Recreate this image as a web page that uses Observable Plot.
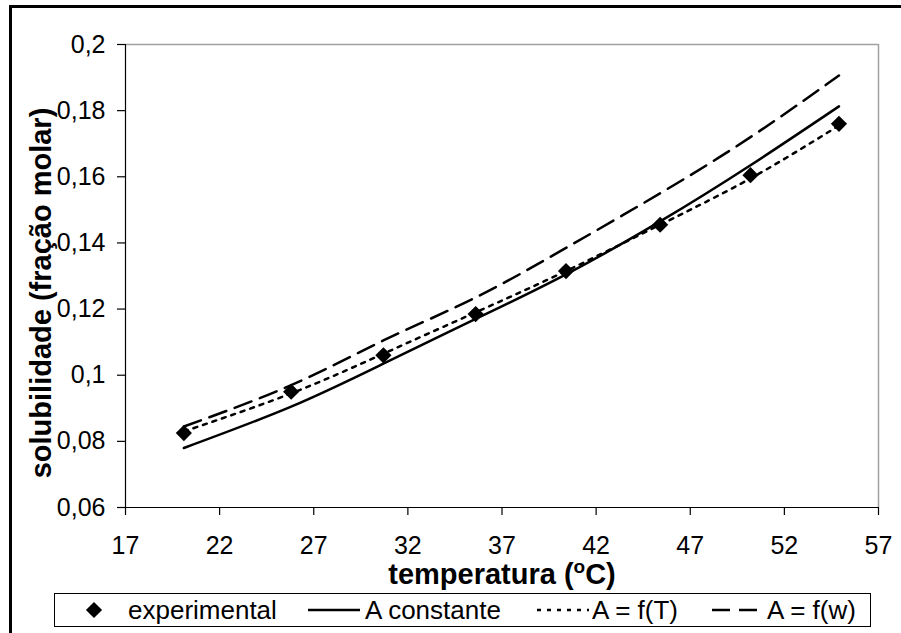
<!DOCTYPE html>
<html><head><meta charset="utf-8">
<script src="https://cdn.jsdelivr.net/npm/d3@7"></script>
<script src="https://cdn.jsdelivr.net/npm/@observablehq/plot@0.6"></script>
<style>
body{margin:0;background:#fff;font-family:"Liberation Sans",Arial,sans-serif;}
#wrap{position:relative;width:901px;height:633px;overflow:hidden;background:#fff;}
#frame{position:absolute;left:9px;top:5px;width:1000px;height:1000px;border:3px solid #000;box-sizing:border-box;pointer-events:none}
#chart{position:absolute;left:0;top:0}
#legend{position:absolute;left:54px;top:593px;width:817px;height:34px;border:1px solid #000;box-sizing:border-box;font-size:26px;color:#000;}
#legend .sw{position:absolute;top:0;}
#legend .lab{position:absolute;top:0;height:32px;line-height:32px;white-space:nowrap;}
</style></head><body>
<div id="wrap"><div id="chart"></div><div id="legend"></div><div id="frame"></div></div>
<script>
// ---- data ----
const temperatura  = [20.1, 25.8, 30.7, 35.6, 40.4, 45.4, 50.2, 54.9];
const experimental = [0.0825, 0.095, 0.106, 0.1185, 0.1315, 0.1455, 0.1605, 0.176];
const aConstante   = [0.078, 0.0905, 0.1035, 0.117, 0.1305, 0.1465, 0.1635, 0.1813];
const aFT          = [0.083, 0.0945, 0.1065, 0.119, 0.1315, 0.1455, 0.1595, 0.1755];
const aFw          = [0.0845, 0.097, 0.1105, 0.1235, 0.1385, 0.155, 0.172, 0.1906];
const xTicks = [17, 22, 27, 32, 37, 42, 47, 52, 57];
const yTicks = [0.06, 0.08, 0.1, 0.12, 0.14, 0.16, 0.18, 0.2];
const seriesNames = ["experimental", "A constante", "A = f(T)", "A = f(w)"];
const xLabel = "temperatura (oC)";
const yLabel = "solubilidade (fração molar)";

const data = temperatura.map((t, i) => ({t, exp: experimental[i], c: aConstante[i], ft: aFT[i], fw: aFw[i]}));
const fmt = d => String(+d.toFixed(2)).replace(".", ",");
const FONT = '"Liberation Sans", Arial, sans-serif';
const DOT_R = 7.3;

const chart = Plot.plot({
  width: 901, height: 590,
  marginLeft: 125, marginRight: 23, marginTop: 44, marginBottom: 83,
  style: {fontFamily: FONT, fontSize: "25px", color: "#000", background: "transparent", overflow: "visible"},
  x: {domain: [xTicks[0], xTicks[xTicks.length - 1]]},
  y: {domain: [yTicks[0], yTicks[yTicks.length - 1]]},
  marks: [
    Plot.ruleY([yTicks[yTicks.length - 1]], {stroke: "#a0a0a0", strokeWidth: 1.5}),
    Plot.ruleX([xTicks[xTicks.length - 1]], {stroke: "#a0a0a0", strokeWidth: 1.5}),
    Plot.axisX({ticks: xTicks, tickSize: 8, tickPadding: 21, tickFormat: d => String(d), label: null, fontSize: 25, strokeWidth: 1.2}),
    Plot.axisY({ticks: yTicks, tickSize: 8, tickPadding: 12, tickFormat: fmt, label: null, fontSize: 25, strokeWidth: 1.2}),
    Plot.ruleX([xTicks[0]], {stroke: "#000", strokeWidth: 1.2}),
    Plot.ruleY([yTicks[0]], {stroke: "#000", strokeWidth: 1.2}),
    Plot.line(data, {x: "t", y: "c", stroke: "#000", strokeWidth: 2.5, curve: "natural"}),
    Plot.line(data, {x: "t", y: "ft", stroke: "#000", strokeWidth: 2.5, strokeDasharray: "4,6", curve: "natural"}),
    Plot.line(data, {x: "t", y: "fw", stroke: "#000", strokeWidth: 2.5, strokeDasharray: "18,9", curve: "natural"}),
    Plot.dot(data, {x: "t", y: "exp", symbol: "diamond2", r: DOT_R, fill: "#000", stroke: null}),
    Plot.text([yLabel], {frameAnchor: "left", rotate: -90, dx: -75, dy: 17, lineAnchor: "bottom", textAnchor: "middle", fontSize: 29, fontWeight: "bold", fill: "#000"}),
    Plot.text([xLabel], {frameAnchor: "bottom", dy: 76, lineAnchor: "bottom", textAnchor: "middle", fontSize: 29, fontWeight: "bold", fill: "#000"})
  ]
});
document.getElementById("chart").appendChild(chart);

// superscript "o" in the x label
chart.querySelectorAll("text").forEach(el => {
  if (el.textContent === xLabel) {
    const [pre, post] = xLabel.split("o" + "C");
    while (el.firstChild) el.removeChild(el.firstChild);
    const ns = "http://www.w3.org/2000/svg";
    const t1 = document.createElementNS(ns, "tspan"); t1.textContent = pre;
    const t2 = document.createElementNS(ns, "tspan"); t2.textContent = "o"; t2.setAttribute("font-size", "19"); t2.setAttribute("dy", "-11");
    const t3 = document.createElementNS(ns, "tspan"); t3.textContent = "C" + post; t3.setAttribute("dy", "11");
    el.appendChild(t1); el.appendChild(t2); el.appendChild(t3);
  }
});

// ---- legend (HTML below/over the svg) ----
const legend = document.getElementById("legend");
const items = [
  {name: seriesNames[0], sw: 26, swW: 26, lab: 73, kind: "dot"},
  {name: seriesNames[1], sw: 253, swW: 52, lab: 310, kind: "line", dash: null},
  {name: seriesNames[2], sw: 482, swW: 52, lab: 537, kind: "line", dash: "4,6"},
  {name: seriesNames[3], sw: 657, swW: 48, lab: 712, kind: "line", dash: "18,9"}
];
items.forEach(it => {
  const s = d3.create("svg").attr("class", "sw").attr("width", it.swW).attr("height", 32)
    .style("left", it.sw + "px");
  if (it.kind === "dot") {
    s.append("path").attr("d", d3.symbol(d3.symbolDiamond2, Math.PI * DOT_R * DOT_R)())
      .attr("transform", `translate(${it.swW / 2},16)`).attr("fill", "#000");
  } else {
    s.append("line").attr("x1", 0).attr("x2", it.swW).attr("y1", 16).attr("y2", 16)
      .attr("stroke", "#000").attr("stroke-width", 2.5).attr("stroke-dasharray", it.dash);
  }
  legend.appendChild(s.node());
  const l = document.createElement("div");
  l.className = "lab"; l.style.left = it.lab + "px"; l.textContent = it.name;
  legend.appendChild(l);
});
</script>
</body></html>
